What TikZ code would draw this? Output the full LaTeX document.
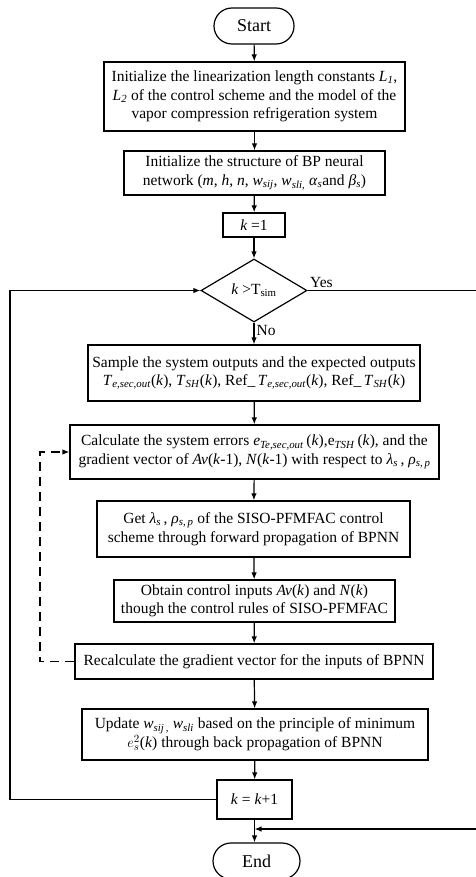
\documentclass[tikz,border=0pt]{standalone}
\usepackage{fontspec}
\setmainfont{Liberation Serif}
\usepackage{tikz}
\usetikzlibrary{arrows.meta, positioning, shapes.geometric}

\newcommand{\sbs}[1]{\textsubscript{\textit{#1}}}

\begin{document}
\begin{tikzpicture}[x=1pt, y=-1pt, line width=1.2pt,
    font=\fontsize{15.5}{18.5}\selectfont,
    box/.style={draw, align=center, inner sep=2pt},
    term/.style={draw, rounded corners=18pt, minimum height=36pt, font=\fontsize{18}{20}\selectfont},
    decide/.style={draw, diamond, aspect=1.7, inner sep=1pt, minimum width=106pt, minimum height=63pt},
    arrow/.style={-{Latex[length=7pt, width=5.5pt]}}]
    \useasboundingbox (0,0) rectangle (475,877);
    \node[term, minimum width=80pt] (start) at (254, 26) {Start};
    \node[box, minimum width=301pt, minimum height=69pt] (init) at (254.5, 96.5) {Initialize the linearization length constants \textit{L}\sbs{1},\\ \textit{L}\sbs{2} of the control scheme and the model of the\\ vapor compression refrigeration system};
    \node[box, minimum width=261pt, minimum height=44pt] (bpnet) at (254.5, 173) {Initialize the structure of BP neural\\ network (\textit{m}, \textit{h}, \textit{n}, \textit{w}\sbs{sij}, \textit{w}\sbs{sli,} \textit{α}\sbs{s}and \textit{β}\sbs{s})};
    \node[box, minimum width=62pt, minimum height=24pt] (kone) at (254, 225) {\textit{k} =1};
    \node[decide] (dec) at (254, 290.5) {\textit{k} >T\textsubscript{sim}};
    \node[box, minimum width=332pt, minimum height=56pt] (sample) at (254, 373) {Sample the system outputs and the expected outputs\\ \textit{T}\sbs{e,sec,out}(\textit{k}), \textit{T}\sbs{SH}(\textit{k}), Ref\_\,\textit{T}\sbs{e,sec,out}(\textit{k}), Ref\_\,\textit{T}\sbs{SH}(\textit{k})};
    \node[box, minimum width=369pt, minimum height=54pt] (calc) at (254.5, 452) {Calculate the system errors \textit{e}\sbs{Te,sec,out}\,(\textit{k}),e\sbs{TSH}\,(\textit{k}), and the\\ gradient vector of \textit{Av}(\textit{k}-1), \textit{N}(\textit{k}-1) with respect to \textit{λ}\sbs{s}\,, \textit{ρ}\sbs{s,\,p}};
    \node[box, minimum width=313pt, minimum height=56pt] (get) at (253.5, 529) {Get \textit{λ}\sbs{s}\,, \textit{ρ}\sbs{s,\,p} of the SISO-PFMFAC control\\ scheme through forward propagation of BPNN};
    \node[box, minimum width=281pt, minimum height=42pt] (obtain) at (254.5, 601) {Obtain control inputs \textit{Av}(\textit{k}) and \textit{N}(\textit{k})\\ though the control rules of SISO-PFMFAC};
    \node[box, minimum width=358pt, minimum height=35pt] (recalc) at (254, 661.5) {Recalculate the gradient vector for the inputs of BPNN};
    \node[box, minimum width=346pt, minimum height=51pt] (update) at (255, 734.5) {Update \textit{w}\sbs{sij\,,} \textit{w}\sbs{sli} based on the principle of minimum\\ $e_s^2$(\textit{k}) through back propagation of BPNN};
    \node[box, minimum width=75pt, minimum height=39pt] (kinc) at (254.5, 799.5) {\textit{k} = \textit{k}+1};
    \node[term, minimum width=87pt] (stop) at (256.5, 861) {End};
    \node[anchor=south west, inner sep=2pt] (yes) at (dec.east) {Yes};
    \node[anchor=north west, inner sep=2pt] (no) at (dec.south) {No};
    \coordinate (lp) at (10, 290.5);
    \coordinate (rp) at (479, 290.5);
    \coordinate (rq) at (479, 829);
    \coordinate (mq) at (254.5, 829);
    \coordinate (dl) at (40, 560);
    \draw[arrow] (start) -- (init);
    \draw[arrow] (init) -- (bpnet);
    \draw[arrow] (bpnet) -- (kone);
    \draw[arrow] (kone) -- (dec);
    \draw[arrow] (dec) -- (sample);
    \draw[arrow] (sample) -- (calc);
    \draw[arrow] (calc) -- (get);
    \draw[arrow] (get) -- (obtain);
    \draw[arrow] (obtain) -- (recalc);
    \draw[arrow] (recalc) -- (update);
    \draw[arrow] (update) -- (kinc);
    \draw[arrow] (kinc.south) -- (kinc.south |- stop.north);
    \draw[arrow] (kinc.west) -| (lp) -- (dec.west);
    \draw[arrow] (dec.east) -- (rp) -- (rq) -- (mq);
    \draw[arrow, dash pattern=on 9pt off 6pt] (recalc.west) -| (dl) |- (calc.west);
\end{tikzpicture}
\end{document}
